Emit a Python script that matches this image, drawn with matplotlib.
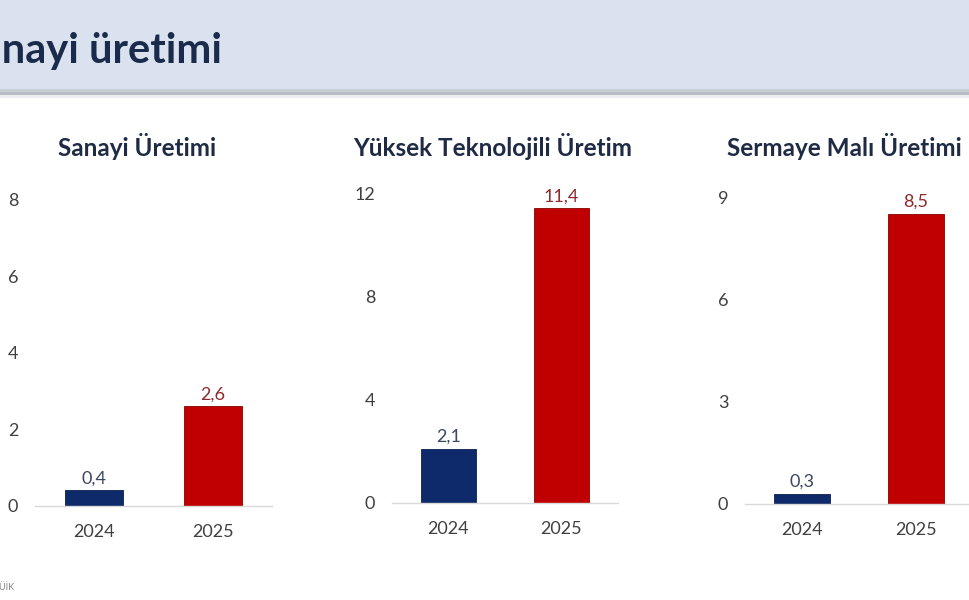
import matplotlib
matplotlib.use("Agg")
import matplotlib.pyplot as plt
from matplotlib.patches import Rectangle

plt.rcParams['font.family'] = ['Lato', 'DejaVu Sans']

# ---- data ----
years = ["2024", "2025"]
panel_titles = ["Sanayi Üretimi", "Yüksek Teknolojili Üretim", "Sermaye Malı Üretimi"]
values_industry = [0.4, 2.6]
values_hightech = [2.1, 11.4]
values_capital = [0.3, 8.5]
value_labels_industry = ["0,4", "2,6"]
value_labels_hightech = ["2,1", "11,4"]
value_labels_capital = ["0,3", "8,5"]
yticks_industry = [0, 2, 4, 6, 8]
yticks_hightech = [0, 4, 8, 12]
yticks_capital = [0, 3, 6, 9]
header_title = "Sanayi üretimi"
source_text = "Kaynak: TÜİK"

W, H = 969, 600
fig = plt.figure(figsize=(W / 100, H / 100), dpi=100)
fig.patch.set_facecolor("white")

def fx(px):
    return px / W

def fy(py):
    return 1 - py / H

# header band
fig.patches.append(Rectangle((0, fy(89)), 1, 89 / H, transform=fig.transFigure,
                             facecolor="#d9e2ee", edgecolor="none", zorder=0))
fig.patches.append(Rectangle((0, fy(92)), 1, 3 / H, transform=fig.transFigure,
                             facecolor="#c8cdd6", edgecolor="none", zorder=0))
fig.patches.append(Rectangle((0, fy(95)), 1, 3 / H, transform=fig.transFigure,
                             facecolor="#b9bdc5", edgecolor="none", zorder=0))
fig.patches.append(Rectangle((0, fy(98)), 1, 3 / H, transform=fig.transFigure,
                             facecolor="#eceef2", edgecolor="none", zorder=0))
fig.text(fx(222), fy(63), header_title, ha="right", va="baseline",
         fontsize=30, fontweight="bold", color="#1b2b4b")

navy = "#0e2a6a"
red = "#c00000"
lab_navy = "#3b4660"
lab_red = "#8e2a2e"

panels = [
    # (left px, right px, baseline px, top px, ymax, values, labels, ticks, title, title_x, title_ha)
    (35, 272, 505.7, 200.0, 8, values_industry, value_labels_industry, yticks_industry, panel_titles[0], 137.5, "center"),
    (392, 618, 502.7, 193.0, 12, values_hightech, value_labels_hightech, yticks_hightech, panel_titles[1], 493, "center"),
    (745, 973, 504.0, 197.0, 9, values_capital, value_labels_capital, yticks_capital, panel_titles[2], 727, "left"),
]

for (l, r, base, top, ymax, vals, labs, ticks, title, tx, tha) in panels:
    ax = fig.add_axes([fx(l), fy(base), (r - l) / W, (base - top) / H])
    ax.set_facecolor("none")
    xs = list(range(len(years)))
    ax.bar(xs, vals, width=0.49, color=[navy, red], edgecolor=["#0a1f50", "#8a0000"], linewidth=0.6)
    ax.set_xlim(-0.5, 1.5)
    ax.set_ylim(0, ymax)
    ax.set_xticks(xs)
    ax.set_xticklabels(years)
    ax.set_yticks(ticks)
    ax.set_yticklabels([str(t) for t in ticks])
    for s in ["top", "right", "left"]:
        ax.spines[s].set_visible(False)
    ax.spines["bottom"].set_color("#d9d9d9")
    ax.spines["bottom"].set_linewidth(1.0)
    ax.tick_params(axis="both", length=0, labelsize=13, labelcolor="#404040")
    ax.tick_params(axis="y", pad=12)
    ax.tick_params(axis="x", pad=13)
    for x, v, lab, c in zip(xs, vals, labs, [lab_navy, lab_red]):
        ax.annotate(lab, (x, v), xytext=(0, 7), textcoords="offset pixels",
                    ha="center", va="baseline", fontsize=13, color=c)
    fig.text(fx(tx), fy(147), title, ha=tha, va="center", fontsize=17.5,
             fontweight="bold", color="#1f2b45")

fig.text(fx(14), fy(587), source_text, ha="right", va="center", fontsize=6.5, color="#7f7f7f")

fig.savefig("out.png", dpi=100, facecolor="white")
